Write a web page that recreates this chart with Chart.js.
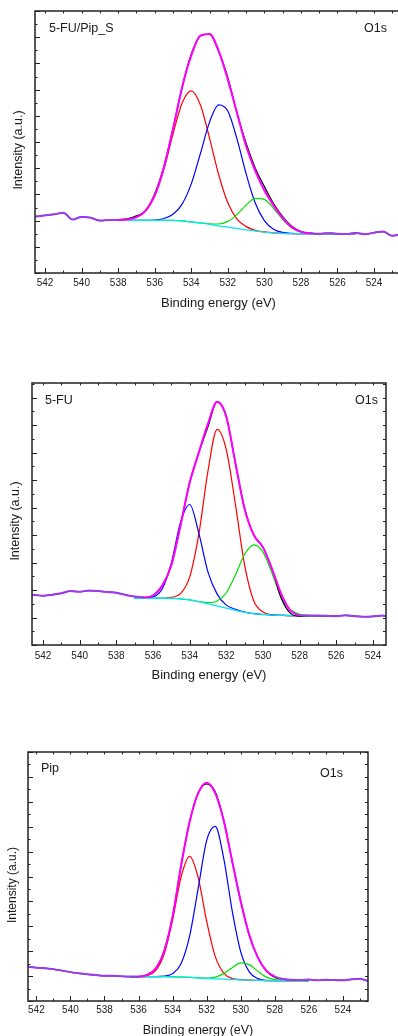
<!DOCTYPE html>
<html>
<head>
<meta charset="utf-8">
<script src="https://cdn.jsdelivr.net/npm/chart.js@4"></script>
<style>
  html, body { margin: 0; padding: 0; background: #fff; }
  body { width: 398px; height: 1036px; overflow: hidden; position: relative; font-family: "Liberation Sans", Arial, sans-serif; }
  canvas { position: absolute; left: 0; }
  .lbl { position: absolute; font-size: 12.5px; line-height: 14px; color: #1a1a1a; white-space: nowrap; }
  .ytitle { position: absolute; width: 120px; text-align: center; font-size: 12.5px; line-height: 14px; color: #1a1a1a; white-space: nowrap; transform: rotate(-90deg); transform-origin: 60px 7px; }
</style>
</head>
<body>
<canvas id="c1" width="402" height="320" style="top:0"></canvas>
<canvas id="c2" width="402" height="360" style="top:330px"></canvas>
<canvas id="c3" width="402" height="345" style="top:700px"></canvas>
<div class="lbl" style="left:49px;top:21px">5-FU/Pip_S</div>
<div class="lbl" style="left:364px;top:21px">O1s</div>
<div class="lbl" style="left:45px;top:393px">5-FU</div>
<div class="lbl" style="left:355px;top:393px">O1s</div>
<div class="lbl" style="left:41px;top:761px">Pip</div>
<div class="lbl" style="left:320px;top:766px">O1s</div>
<div class="ytitle" style="left:-42px;top:143px">Intensity (a.u.)</div>
<div class="ytitle" style="left:-45px;top:514px">Intensity (a.u.)</div>
<div class="ytitle" style="left:-48px;top:878px;font-size:12px">Intensity (a.u.)</div>
<script>
// binding energy grid (eV), shared by all three spectra
const bindingEnergy = [543, 542.5, 542, 541.5, 541, 540.5, 540, 539.5, 539, 538.5, 538, 537.5, 537, 536.5, 536, 535.5, 535, 534.5, 534, 533.5, 533, 532.5, 532, 531.5, 531, 530.5, 530, 529.5, 529, 528.5, 528, 527.5, 527, 526.5, 526, 525.5, 525, 524.5, 524, 523.5, 523, 522.5, 522];
const xTickValues = [542, 540, 538, 536, 534, 532, 530, 528, 526, 524];

// 5-FU/Pip_S
const rawFuPipS = [2.18, 2.16, 2.20, 2.24, 2.30, 2.04, 2.14, 2.11, 2.00, 2.02, 2.04, 2.07, 2.18, 2.38, 3.02, 4.05, 5.50, 7.10, 8.35, 9.05, 9.12, 8.45, 7.45, 6.10, 4.95, 4.00, 3.30, 2.65, 2.15, 1.78, 1.58, 1.52, 1.50, 1.52, 1.50, 1.49, 1.53, 1.48, 1.54, 1.58, 1.42, 1.48, 1.48];
const envFuPipS = [2.18, 2.16, 2.20, 2.24, 2.30, 2.04, 2.14, 2.11, 2.00, 2.02, 2.02, 2.04, 2.13, 2.37, 2.96, 4.03, 5.50, 7.08, 8.30, 9.06, 9.12, 8.48, 7.38, 6.12, 4.85, 3.90, 3.15, 2.58, 2.10, 1.75, 1.57, 1.52, 1.50, 1.52, 1.50, 1.49, 1.53, 1.48, 1.54, 1.58, 1.42, 1.48, 1.48];
const bgFuPipS = [null, null, null, null, null, null, null, null, null, 2.01, 2.01, 2.01, 2.01, 2.01, 2.01, 2.01, 2.01, 1.99, 1.95, 1.91, 1.86, 1.80, 1.75, 1.70, 1.65, 1.60, 1.56, 1.53, 1.51, 1.50, 1.50, 1.50, 1.50, 1.50, 1.50, 1.50, 1.50, null, null, null, null, null, null];
const redFuPipS = [null, null, null, null, null, null, null, null, null, 2.01, 2.02, 2.04, 2.13, 2.37, 2.94, 3.96, 5.30, 6.49, 6.95, 6.41, 5.15, 3.75, 2.68, 2.06, 1.77, 1.63, 1.57, 1.53, 1.51, 1.50, 1.50, 1.50, 1.50, 1.50, 1.50, 1.50, 1.50, null, null, null, null, null, null];
const blueFuPipS = [null, null, null, null, null, null, null, null, null, 2.01, 2.01, 2.01, 2.01, 2.01, 2.02, 2.08, 2.24, 2.63, 3.40, 4.56, 5.76, 6.42, 6.18, 5.12, 3.79, 2.67, 2.00, 1.67, 1.55, 1.51, 1.50, 1.50, 1.50, 1.50, 1.50, 1.50, 1.50, null, null, null, null, null, null];
const greenFuPipS = [null, null, null, null, null, null, null, null, null, 2.01, 2.01, 2.01, 2.01, 2.01, 2.01, 2.01, 2.01, 1.99, 1.95, 1.91, 1.88, 1.87, 1.97, 2.23, 2.59, 2.85, 2.81, 2.47, 2.04, 1.72, 1.57, 1.52, 1.50, 1.50, 1.50, 1.50, 1.50, null, null, null, null, null, null];

// 5-FU
const rawFu = [1.82, 1.82, 1.79, 1.83, 1.88, 1.96, 1.94, 1.98, 1.96, 1.93, 1.90, 1.82, 1.76, 1.73, 1.80, 2.15, 2.90, 4.35, 5.90, 7.00, 7.95, 8.85, 8.30, 6.60, 4.95, 4.00, 3.55, 2.75, 1.70, 1.15, 1.05, 1.07, 1.07, 1.06, 1.05, 1.08, 1.05, 1.03, 1.04, 1.07, 1.02, 1.03, 1.03];
const envFu = [1.82, 1.82, 1.79, 1.83, 1.88, 1.96, 1.94, 1.98, 1.96, 1.93, 1.90, 1.82, 1.76, 1.73, 1.80, 2.15, 2.90, 4.35, 5.90, 7.00, 8.05, 8.85, 8.30, 6.60, 4.95, 4.00, 3.55, 2.75, 1.85, 1.25, 1.09, 1.07, 1.07, 1.06, 1.05, 1.08, 1.05, 1.03, 1.04, 1.07, 1.02, 1.03, 1.03];
const bgFu = [null, null, null, null, null, null, null, null, null, null, null, null, 1.70, 1.70, 1.70, 1.70, 1.70, 1.68, 1.64, 1.58, 1.50, 1.42, 1.34, 1.26, 1.19, 1.14, 1.11, 1.09, 1.08, 1.07, 1.07, 1.07, 1.07, 1.07, 1.07, null, null, null, null, null, null, null, null];
const redFu = [null, null, null, null, null, null, null, null, null, null, null, null, 1.70, 1.70, 1.70, 1.70, 1.73, 1.87, 2.47, 4.03, 6.33, 7.84, 7.10, 5.10, 2.90, 1.60, 1.20, 1.10, 1.08, 1.07, 1.07, 1.07, 1.07, 1.07, 1.07, null, null, null, null, null, null, null, null];
const blueFu = [null, null, null, null, null, null, null, null, null, null, null, null, 1.70, 1.71, 1.75, 2.04, 2.98, 4.46, 5.11, 4.07, 2.65, 1.85, 1.45, 1.30, 1.20, 1.14, 1.11, 1.09, 1.08, 1.07, 1.07, 1.07, 1.07, 1.07, 1.07, null, null, null, null, null, null, null, null];
const greenFu = [null, null, null, null, null, null, null, null, null, null, null, null, 1.70, 1.70, 1.70, 1.70, 1.70, 1.68, 1.64, 1.58, 1.54, 1.60, 1.90, 2.55, 3.30, 3.64, 3.38, 2.60, 1.72, 1.28, 1.12, 1.08, 1.07, 1.07, 1.07, null, null, null, null, null, null, null, null];

// Pip
const rawPip = [1.40, 1.38, 1.34, 1.32, 1.28, 1.22, 1.16, 1.11, 1.07, 1.04, 1.01, 1.01, 0.99, 0.98, 0.98, 1.05, 1.30, 2.00, 3.40, 5.45, 7.20, 8.35, 8.72, 8.40, 7.25, 5.60, 4.00, 2.65, 1.75, 1.20, 0.95, 0.88, 0.85, 0.84, 0.86, 0.83, 0.85, 0.84, 0.83, 0.87, 0.89, 0.81, 0.82];
const envPip = [1.40, 1.38, 1.34, 1.32, 1.28, 1.22, 1.16, 1.11, 1.07, 1.04, 1.01, 1.01, 0.99, 0.98, 0.98, 1.05, 1.30, 2.00, 3.40, 5.45, 7.20, 8.35, 8.77, 8.35, 7.25, 5.60, 4.00, 2.65, 1.75, 1.22, 0.98, 0.88, 0.85, 0.84, 0.86, 0.83, 0.85, 0.84, 0.83, 0.87, 0.89, 0.81, 0.82];
const bgPip = [null, null, null, null, null, null, null, null, null, null, null, null, null, 0.98, 0.98, 0.98, 0.98, 0.98, 0.97, 0.96, 0.95, 0.93, 0.91, 0.89, 0.88, 0.86, 0.85, 0.84, 0.83, 0.82, 0.82, 0.82, 0.82, 0.82, 0.82, null, null, null, null, null, null, null, null];
const redPip = [null, null, null, null, null, null, null, null, null, null, null, null, null, 0.98, 0.98, 1.02, 1.22, 1.88, 3.26, 4.99, 5.81, 4.96, 3.20, 1.79, 1.12, 0.90, 0.86, 0.84, 0.83, 0.82, 0.82, 0.82, 0.82, 0.82, 0.82, null, null, null, null, null, null, null, null];
const bluePip = [null, null, null, null, null, null, null, null, null, null, null, null, null, 0.98, 0.98, 0.98, 0.98, 1.00, 1.10, 1.51, 2.62, 4.52, 6.45, 7.01, 5.73, 3.61, 1.97, 1.17, 0.90, 0.83, 0.82, 0.82, 0.82, 0.82, 0.82, null, null, null, null, null, null, null, null];
const greenPip = [null, null, null, null, null, null, null, null, null, null, null, null, null, 0.98, 0.98, 0.98, 0.98, 0.98, 0.97, 0.96, 0.95, 0.93, 0.92, 0.96, 1.10, 1.34, 1.53, 1.46, 1.20, 0.96, 0.86, 0.83, 0.82, 0.82, 0.82, null, null, null, null, null, null, null, null];

const FONT = '"Liberation Sans", Arial, sans-serif';
const PURPLE = '#9b3cf0';

function toPoints(values) {
    return bindingEnergy.map((e, i) => ({ x: e, y: values[i] }));
}

// inward tick marks on all four sides plus the closed frame
const frameTicks = {
    id: 'frameTicks',
    afterDatasetsDraw(chart) {
        const { ctx, chartArea: a, scales: { x, y } } = chart;
        ctx.save();
        ctx.strokeStyle = '#222';
        ctx.lineWidth = 1;
        ctx.beginPath();
        for (let e = 543; e >= 522; e -= 1) {
            if (e > x.max || e < x.min) continue;
            const px = Math.round(x.getPixelForValue(e)) + 0.5;
            const len = e % 2 === 0 ? 5 : 2.5;
            ctx.moveTo(px, a.bottom);
            ctx.lineTo(px, a.bottom - len);
            ctx.moveTo(px, a.top);
            ctx.lineTo(px, a.top + 2.5);
        }
        for (let v = 0; v <= y.max; v += 0.5) {
            const py = Math.round(y.getPixelForValue(v)) + 0.5;
            const len = v % 1 === 0 ? 5 : 2.5;
            ctx.moveTo(a.left, py);
            ctx.lineTo(a.left + len, py);
            ctx.moveTo(a.right, py);
            ctx.lineTo(a.right - 3, py);
        }
        ctx.stroke();
        ctx.lineWidth = 1.5;
        ctx.strokeRect(a.left, a.top, a.right - a.left, a.bottom - a.top);
        ctx.restore();
    }
};

function makePanel(id, p) {
    const line = (data, color, width, order) => ({
        data: toPoints(data),
        borderColor: color,
        borderWidth: width,
        pointRadius: 0,
        cubicInterpolationMode: 'monotone',
        fill: false,
        order: order
    });
    const env = line(p.env, '#ff00ff', 2, 0);
    env.segment = {
        borderColor: c => (c.p0.parsed.x >= p.flatHigh || c.p1.parsed.x <= p.flatLow) ? PURPLE : '#ff00ff'
    };
    return new Chart(document.getElementById(id), {
        type: 'line',
        data: {
            datasets: [
                env,
                line(p.raw, '#000000', 1.3, 1),
                line(p.bg, '#00e8f0', 1.3, 2),
                line(p.green, '#00e000', 1.2, 3),
                line(p.blue, '#0000ff', 1.2, 4),
                line(p.red, '#ff0000', 1.2, 5)
            ]
        },
        options: {
            responsive: false,
            animation: false,
            events: [],
            layout: { padding: p.padding },
            plugins: { legend: { display: false }, tooltip: { enabled: false } },
            scales: {
                x: {
                    type: 'linear',
                    reverse: true,
                    min: p.xMin,
                    max: p.xMax,
                    grid: { display: false, drawTicks: false },
                    border: { display: false },
                    afterBuildTicks: s => { s.ticks = xTickValues.map(v => ({ value: v })); },
                    afterFit: s => { s.height = p.xHeight; },
                    ticks: {
                        padding: p.tickPad,
                        maxRotation: 0,
                        autoSkip: false,
                        color: '#222',
                        font: { family: FONT, size: 10 },
                        callback: v => String(v)
                    },
                    title: {
                        display: true,
                        text: 'Binding energy (eV)',
                        color: '#1a1a1a',
                        font: { family: FONT, size: p.titleSize },
                        padding: { top: 0, bottom: p.xTitlePad }
                    }
                },
                y: {
                    min: 0,
                    max: p.yMax,
                    grid: { display: false, drawTicks: false },
                    border: { display: false },
                    ticks: { display: false },
                    afterFit: s => { s.width = p.yWidth; }
                }
            }
        },
        plugins: [frameTicks]
    });
}

makePanel('c1', {
    raw: rawFuPipS, env: envFuPipS, bg: bgFuPipS, red: redFuPipS, blue: blueFuPipS, green: greenFuPipS,
    flatHigh: 538.5, flatLow: 527,
    xMin: 522.47, xMax: 542.55, yMax: 10,
    padding: { top: 11, left: 0, right: 0, bottom: 0 },
    yWidth: 35, xHeight: 47, tickPad: 4, titleSize: 13, xTitlePad: 9, xTitleSize: 13
});

makePanel('c2', {
    raw: rawFu, env: envFu, bg: bgFu, red: redFu, blue: blueFu, green: greenFu,
    flatHigh: 537, flatLow: 527.5,
    xMin: 523.29, xMax: 542.6, yMax: 9.53,
    padding: { top: 53, left: 0, right: 16, bottom: 0 },
    yWidth: 32, xHeight: 45, tickPad: 5, titleSize: 13, xTitlePad: 7
});

makePanel('c3', {
    raw: rawPip, env: envPip, bg: bgPip, red: redPip, blue: bluePip, green: greenPip,
    flatHigh: 536.5, flatLow: 527.5,
    xMin: 522.53, xMax: 542.49, yMax: 10,
    padding: { top: 52, left: 0, right: 34, bottom: 0 },
    yWidth: 28, xHeight: 44, tickPad: 3, titleSize: 12.5, xTitlePad: 6.5
});
</script>
</body>
</html>
